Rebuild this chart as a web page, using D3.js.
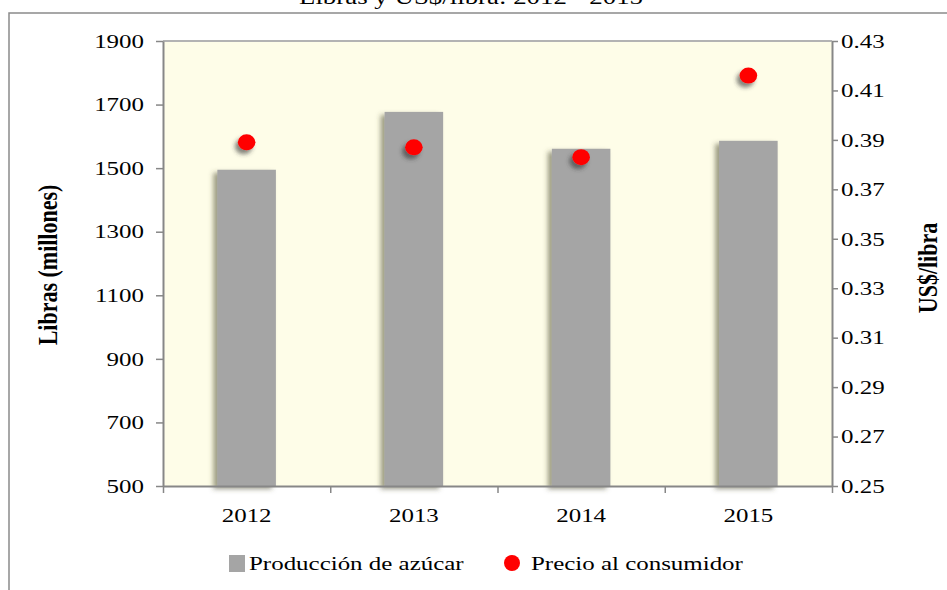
<!DOCTYPE html>
<html>
<head>
  <meta charset="utf-8">
  <script src="https://d3js.org/d3.v7.min.js"></script>
  <style>
    body { margin: 0; background: #fff; }
    text { font-family: "Liberation Serif", "Times New Roman", serif; fill: #000; }
  </style>
</head>
<body>
<script>
var years = ["2012", "2013", "2014", "2015"];
var produccion = [1495, 1677, 1561, 1586];
var precio = [0.389, 0.387, 0.383, 0.416];
var leftTicks = [500, 700, 900, 1100, 1300, 1500, 1700, 1900];
var rightTicks = [0.25, 0.27, 0.29, 0.31, 0.33, 0.35, 0.37, 0.39, 0.41, 0.43];
var seriesNames = ["Producción de azúcar", "Precio al consumidor"];
var titulo = "Libras y US$/libra: 2012 - 2015";

var W = 947, H = 590;
var plotL = 163, plotR = 832, plotT = 41, plotB = 486;
var sx = 1.28; // the source picture is stretched sideways

var svg = d3.select("body").append("svg")
    .attr("width", W)
    .attr("height", H);

var defs = svg.append("defs");
defs.append("filter").attr("id", "barShadow")
    .attr("x", "-30%").attr("y", "-10%").attr("width", "160%").attr("height", "130%")
  .append("feDropShadow")
    .attr("dx", -4).attr("dy", 3).attr("stdDeviation", 2.5)
    .attr("flood-color", "#4d4d33").attr("flood-opacity", 0.55);
defs.append("filter").attr("id", "dotShadow")
    .attr("x", "-80%").attr("y", "-80%").attr("width", "260%").attr("height", "260%")
  .append("feDropShadow")
    .attr("dx", -3).attr("dy", 4).attr("stdDeviation", 2)
    .attr("flood-color", "#333").attr("flood-opacity", 0.6);

// stretch glyphs sideways around the text's own anchor point
function widen(sel) {
  sel.each(function () {
    var t = d3.select(this);
    var tx = +t.attr("x") || 0;
    t.attr("transform", "translate(" + tx + ",0) scale(" + sx + ",1) translate(" + (-tx) + ",0)");
  });
}

// outer frame
svg.append("rect")
    .attr("x", 9).attr("y", 13)
    .attr("width", 1000).attr("height", 700)
    .style("fill", "none").style("stroke", "#8a8a8a").style("stroke-width", 1.5);

// title is clipped by the top edge in the source too
svg.append("text")
    .attr("x", 471).attr("y", 3.5)
    .attr("text-anchor", "middle")
    .style("font-size", "21px")
    .text(titulo)
    .call(widen);

// plot background
svg.append("rect")
    .attr("x", plotL).attr("y", plotT)
    .attr("width", plotR - plotL).attr("height", plotB - plotT)
    .style("fill", "#fefde8");
svg.append("line")
    .attr("x1", plotL).attr("x2", plotR).attr("y1", plotT).attr("y2", plotT)
    .style("stroke", "#b3b3b3").style("stroke-width", 2);

var x = d3.scaleBand()
    .domain(years)
    .range([plotL, plotR])
    .paddingInner(0.65)
    .paddingOuter(0.325);
var xEdges = d3.scaleLinear().domain([0, years.length]).range([plotL, plotR]);
var y = d3.scaleLinear().domain([500, 1900]).range([plotB, plotT]);
var y2 = d3.scaleLinear().domain([0.25, 0.43]).range([plotB, plotT]);

svg.append("g").selectAll("rect")
    .data(produccion)
    .enter()
    .append("rect")
    .attr("x", function (d, i) { return x(years[i]); })
    .attr("y", function (d) { return y(d); })
    .attr("width", x.bandwidth())
    .attr("height", function (d) { return plotB - y(d); })
    .style("fill", "#a5a5a5")
    .attr("filter", "url(#barShadow)");

// axes
var gl = svg.append("g")
    .attr("transform", "translate(" + plotL + ",0)")
    .call(d3.axisLeft(y).tickValues(leftTicks).tickSize(7).tickSizeOuter(0).tickPadding(12).tickFormat(d3.format("d")));
var gr = svg.append("g")
    .attr("transform", "translate(" + plotR + ",0)")
    .call(d3.axisRight(y2).tickValues(rightTicks).tickSize(6).tickSizeOuter(0).tickPadding(3).tickFormat(d3.format(".2f")));
var gb = svg.append("g")
    .attr("transform", "translate(0," + plotB + ")")
    .call(d3.axisBottom(xEdges).tickValues(d3.range(0, years.length + 1)).tickSize(7).tickSizeOuter(0).tickFormat(""));
var gx = svg.append("g")
    .attr("transform", "translate(0," + plotB + ")")
    .call(d3.axisBottom(x).tickSize(0).tickPadding(22));
gx.select(".domain").remove();

[gl, gr, gb].forEach(function (g) {
  g.select(".domain").style("stroke", "#878787").style("stroke-width", 2);
  g.selectAll(".tick line").style("stroke", "#878787").style("stroke-width", 1.5);
});
[gl, gr, gx].forEach(function (g) {
  g.selectAll("text")
      .style("font-size", "19.5px")
      .style("font-family", "'Liberation Serif', 'Times New Roman', serif")
      .call(widen);
});

// price points
svg.append("g").selectAll("ellipse")
    .data(precio)
    .enter()
    .append("ellipse")
    .attr("cx", function (d, i) { return x(years[i]) + x.bandwidth() / 2; })
    .attr("cy", function (d) { return y2(d); })
    .attr("rx", 8.8)
    .attr("ry", 8)
    .style("fill", "#ff0000")
    .attr("filter", "url(#dotShadow)");

// axis titles
svg.append("text")
    .attr("transform", "translate(57,265) scale(" + sx + ",1) rotate(-90)")
    .attr("text-anchor", "middle")
    .style("font-size", "22px").style("font-weight", "bold")
    .text("Libras (millones)");
svg.append("text")
    .attr("transform", "translate(937,268) scale(" + sx + ",1) rotate(-90)")
    .attr("text-anchor", "middle")
    .style("font-size", "22px").style("font-weight", "bold")
    .text("US$/libra");

// legend
var legend = svg.append("g");
legend.append("rect")
    .attr("x", 229).attr("y", 555).attr("width", 16).attr("height", 17)
    .style("fill", "#a5a5a5");
legend.append("text")
    .attr("x", 249).attr("y", 570)
    .style("font-size", "19.5px")
    .text(seriesNames[0])
    .call(widen);
legend.append("circle")
    .attr("cx", 512).attr("cy", 563).attr("r", 8)
    .style("fill", "#ff0000");
legend.append("text")
    .attr("x", 531).attr("y", 570)
    .style("font-size", "19.5px")
    .text(seriesNames[1])
    .call(widen);
</script>
</body>
</html>
